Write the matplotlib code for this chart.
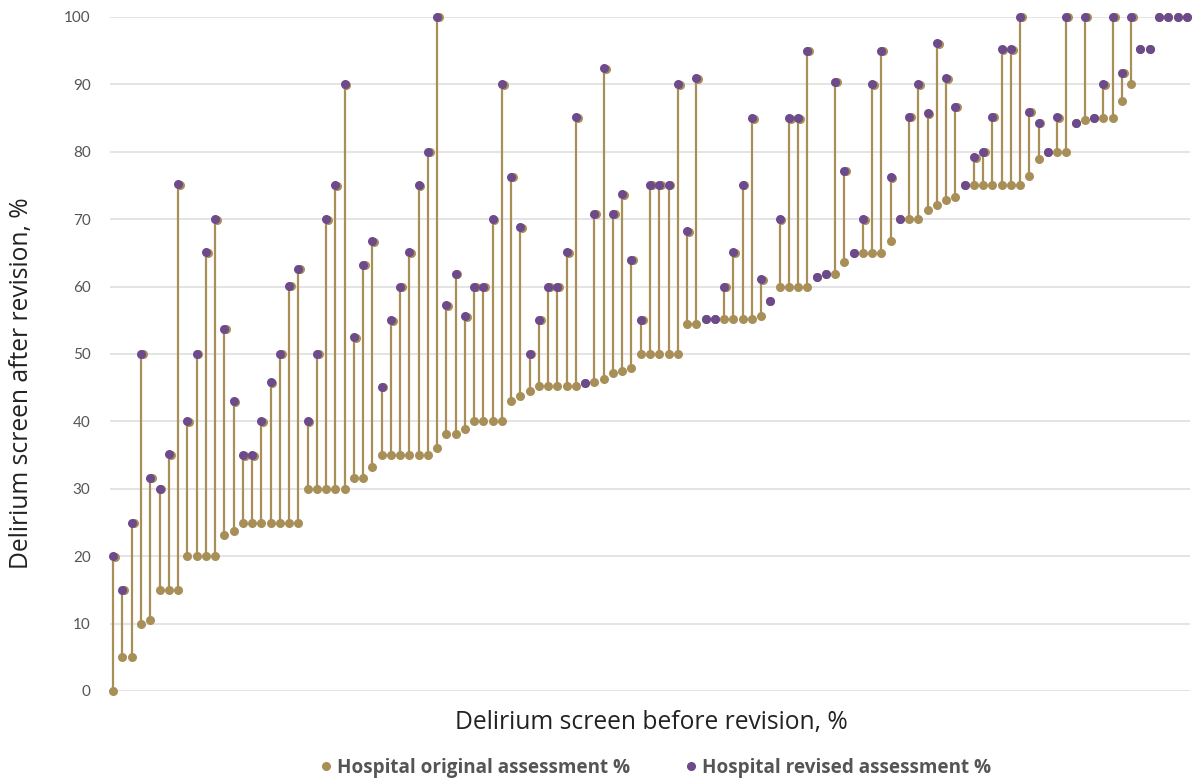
import matplotlib
matplotlib.use("Agg")
import matplotlib.pyplot as plt
from matplotlib import transforms
from matplotlib.lines import Line2D
import numpy as np

plt.rcParams['font.family'] = ['Lato', 'DejaVu Sans']

original = [0, 5, 5, 10, 10.5, 15, 15, 15, 20, 20, 20, 20, 23.1, 23.7, 25, 25, 25, 25, 25, 25,
            25, 30, 30, 30, 30, 30, 31.6, 31.6, 33.3, 35, 35, 35, 35, 35, 35, 36, 38.1, 38.1, 38.8, 40,
            40, 40, 40, 43.1, 43.8, 44.5, 45.2, 45.2, 45.2, 45.2, 45.2, 45.7, 45.9, 46.3, 47.2, 47.5, 47.9, 50, 50, 50,
            50, 50, 54.5, 54.5, 55.2, 55.2, 55.2, 55.2, 55.2, 55.2, 55.7, 57.9, 60, 60, 60, 60, 61.4, 61.8, 61.8, 63.7,
            65, 65, 65, 65, 66.8, 70, 70, 70, 71.4, 72.1, 72.8, 73.3, 75, 75, 75, 75, 75, 75, 75, 76.4,
            78.9, 80, 80, 80, 84.3, 84.7, 85, 85, 85, 87.6, 90, 95.2, 95.2, 100, 100, 100, 100]
revised = [20, 15, 25, 50, 31.6, 30, 35.1, 75.2, 40, 50, 65.1, 70, 53.7, 43, 35, 35, 40, 45.8, 50, 60.1,
           62.6, 40, 50, 70, 75, 90, 52.5, 63.2, 66.7, 45.1, 55, 60, 65.1, 75, 80, 100, 57.2, 61.9, 55.6, 60,
           60, 70, 90, 76.3, 68.8, 50, 55.1, 60, 60, 65.1, 85.1, 45.7, 70.8, 92.4, 70.8, 73.7, 64, 55.1, 75.1, 75.1,
           75.1, 90, 68.2, 90.9, 55.2, 55.2, 60, 65.1, 75.1, 85, 61.1, 57.9, 70, 85, 85, 95, 61.4, 61.8, 90.4, 77.2,
           65, 70, 90, 95, 76.2, 70, 85.2, 90, 85.7, 96.1, 90.9, 86.7, 75, 79.2, 80, 85.2, 95.2, 95.2, 100, 85.9,
           84.3, 80, 85.1, 100, 84.3, 100, 85, 90, 100, 91.7, 100, 95.2, 95.2, 100, 100, 100, 100]
y_ticks = [0, 10, 20, 30, 40, 50, 60, 70, 80, 90, 100]

GOLD = '#A88F58'
PURPLE = '#6D4A8B'
TICK = '#555555'

W, H = 1193, 780
fig = plt.figure(figsize=(W / 100, H / 100), dpi=100)
ax = fig.add_axes([110 / W, 1 - 691 / H, (1190 - 110) / W, (691 - 17) / H])

x = np.arange(len(original))
orig = np.array(original)
rev = np.array(revised)

ax.vlines(x, orig, rev, color=GOLD, lw=1.6, zorder=2, clip_on=False)
diff = np.abs(rev - orig) > 0.3
shadow = transforms.offset_copy(ax.transData, fig=fig, x=1.3, y=-0.3, units='points')
ax.plot(x[diff], rev[diff], 'o', color=GOLD, ms=6.5, mew=0, transform=shadow, zorder=3, clip_on=False)
ax.plot(x, orig, 'o', color=GOLD, ms=6.5, mew=0, zorder=4, clip_on=False)
ax.plot(x, rev, 'o', color=PURPLE, ms=6.5, mew=0, zorder=5, clip_on=False)

ax.set_xlim(-0.35, len(original) - 1 + 0.35)
ax.set_ylim(0, 100)
ax.set_yticks(y_ticks)
ax.set_xticks([])
ax.grid(axis='y', color='#dddddd', lw=1.1, zorder=0)
ax.set_axisbelow(True)
for s in ax.spines.values():
    s.set_visible(False)
ax.tick_params(axis='y', length=0, pad=14, labelsize=11, labelcolor=TICK)

label_font = ['Open Sans', 'DejaVu Sans']
fig.text(651 / W, 1 - 722 / H, 'Delirium screen before revision, %', ha='center', va='center',
         fontsize=17.7, color='#222222', family=label_font)
fig.text(22 / W, 1 - 383 / H, 'Delirium screen after revision, %', ha='center', va='center',
         rotation=90, fontsize=17.7, color='#222222', family=label_font)

handles = [Line2D([], [], marker='o', ls='', color=GOLD, ms=5.5),
           Line2D([], [], marker='o', ls='', color=PURPLE, ms=5.5)]
fig.legend(handles, ['Hospital original assessment %', 'Hospital revised assessment %'],
           loc='center', bbox_to_anchor=(654 / W, 1 - 768 / H), ncol=2, frameon=False,
           prop={'weight': 'bold', 'size': 13.6, 'family': label_font}, labelcolor='#555555',
           handletextpad=0.1, columnspacing=2.7, handlelength=1.0)

fig.savefig('out.png', dpi=100)
